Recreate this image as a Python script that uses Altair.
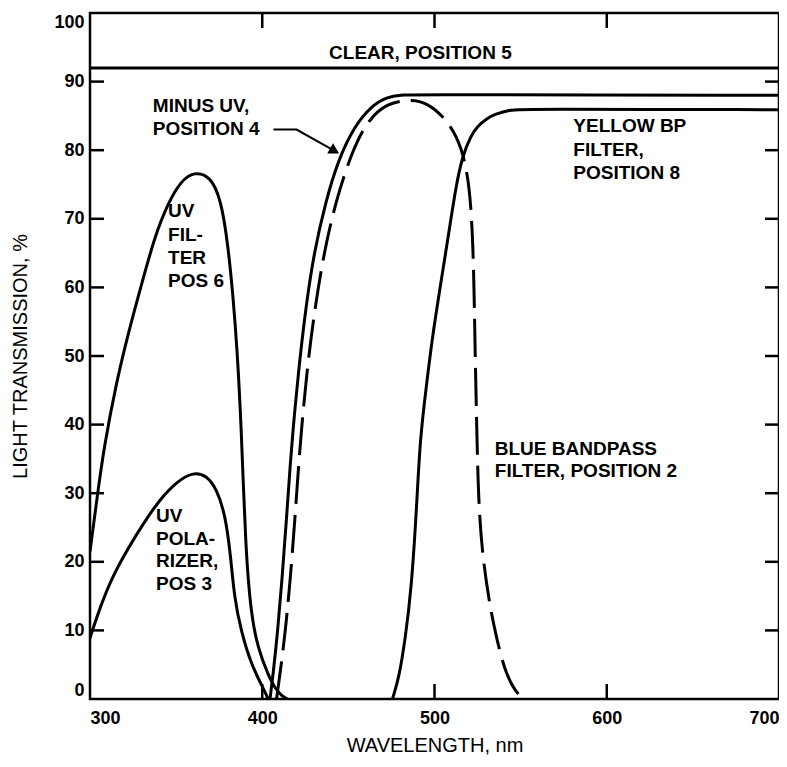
import altair as alt
import pandas as pd

# ---------------- data ----------------
x_tick_labels = [300, 400, 500, 600, 700]
y_tick_labels = [0, 10, 20, 30, 40, 50, 60, 70, 80, 90, 100]
inner_x_ticks = [400, 500, 600]
inner_y_ticks = [10, 20, 30, 40, 50, 60, 70, 80, 90]

clear_nm = [300, 700]
clear_pct = [92, 92]

uv_filter_nm = [300, 304.3, 308, 315.3, 322.8, 330.2, 337.7, 345.3, 352.8, 360.4,
                370.1, 376, 380, 383.2, 385.4, 387.8, 390.3, 393.5, 397.5, 403.4,
                407.3, 411.5, 414.5]
uv_filter_pct = [21.5, 29.7, 36.5, 46.2, 53.9, 60.7, 67.5, 72.3, 75.5, 76.9,
                 76.2, 72.8, 66.5, 58.3, 51, 40, 21.9, 12.3, 7.4, 3.5,
                 1.6, 0.4, 0]

uv_pol_nm = [300, 304.9, 312.5, 321.9, 331.5, 340.9, 350.4, 360, 367.6, 373.4,
             378.6, 381.6, 383.8, 387.8, 393.7, 399.5, 403.5]
uv_pol_pct = [8.9, 12.7, 17.6, 21.9, 25.8, 29.2, 31.7, 33.1, 32.6, 30.7,
              26.8, 21, 14.7, 9.8, 5, 2.1, 0]

minus_uv_nm = [404.5, 406.5, 409, 411.5, 414, 416.3, 418.8, 422, 425.7, 430.1,
               436.6, 444.1, 453.5, 463.1, 472.6, 482.2, 490, 700]
minus_uv_pct = [0, 4, 10, 17.5, 26, 34.5, 42, 50, 57.8, 65.1,
                72.3, 78.6, 83.5, 86.4, 87.8, 88.1, 88.1, 88]

blue_nm = [408.3, 410.5, 413.5, 416.3, 418.9, 421.2, 423.7, 426.9, 431.1, 435.9,
           442.4, 451.7, 461.2, 472.6, 486.1, 495.7, 505.3, 513.2, 518.2, 521.3,
           522.8, 523.4, 524.2, 524.8, 525.7, 527.8, 532, 536, 540.9, 546.8, 551.7]
blue_pct = [0, 4, 10, 17.5, 26, 34.5, 42, 50, 57.8, 65.1,
            72.3, 79.6, 84.4, 86.9, 87.4, 86.9, 84.9, 82, 78.1, 72.3,
            62.6, 53, 43.3, 36.5, 28.2, 21, 13.7, 8.9, 4, 1.1, 0]

yellow_nm = [475.6, 479.4, 483.1, 486.6, 489.7, 491.6, 495.3, 498.9, 503.4, 508.9,
             512.5, 516.2, 520.9, 524.8, 530.4, 534.4, 544, 549.8, 700]
yellow_pct = [0, 3.1, 8.9, 16.1, 28.2, 37.9, 45.7, 53, 60.2, 68.9,
              74.8, 79.1, 82, 83.5, 84.6, 85.2, 85.9, 86, 85.9]

# annotation text (left edge nm, centre %)
label_text = ["CLEAR, POSITION 5",
              "MINUS UV,", "POSITION 4",
              "UV", "FIL-", "TER", "POS 6",
              "UV", "POLA-", "RIZER,", "POS 3",
              "YELLOW BP", "FILTER,", "POSITION 8",
              "BLUE BANDPASS", "FILTER, POSITION 2"]
label_nm = [438.8,
            336.5, 336.5,
            345.3, 345.3, 345.3, 345.3,
            338.3, 338.3, 338.3, 338.3,
            580.6, 580.6, 580.6,
            535, 535]
label_pct = [94.1,
             86.4, 83.1,
             71.1, 67.7, 64.3, 60.9,
             26.7, 23.3, 20.1, 16.7,
             83.5, 80.1, 76.7,
             36.4, 33.2]

arrow_nm = [406.5, 419.9, 442.0]
arrow_pct = [83.0, 83.0, 79.9]

# ---------------- tables ----------------
solid_rows = []
for name, xs, ys in [("UV filter", uv_filter_nm, uv_filter_pct),
                     ("UV polarizer", uv_pol_nm, uv_pol_pct),
                     ("Minus UV", minus_uv_nm, minus_uv_pct),
                     ("Yellow BP", yellow_nm, yellow_pct),
                     ("Clear", clear_nm, clear_pct)]:
    for a, b in zip(xs, ys):
        solid_rows.append({"series": name, "nm": a, "pct": b})
solid_df = pd.DataFrame(solid_rows)
blue_df = pd.DataFrame({"nm": blue_nm, "pct": blue_pct})
label_df = pd.DataFrame({"text": label_text, "nm": label_nm, "pct": label_pct})
arrow_df = pd.DataFrame({"nm": arrow_nm, "pct": arrow_pct})
head_df = arrow_df.tail(1)
xt_df = pd.DataFrame({"nm": inner_x_ticks})
yt_df = pd.DataFrame({"pct": inner_y_ticks})

W, H = 689, 686
FONT = "Liberation Sans"

xscale = alt.Scale(domain=[300, 700], nice=False, zero=False)
yscale = alt.Scale(domain=[0, 100], nice=False, zero=False)
xaxis = alt.Axis(values=x_tick_labels, title="WAVELENGTH, nm", ticks=False, domain=False,
                 grid=False, labelFlush=True, labelPadding=10, labelFont=FONT,
                 labelFontSize=18, labelFontWeight="bold", labelColor="black",
                 titleFont=FONT, titleFontSize=20, titleFontWeight="normal",
                 titleColor="black", titleX=W / 2, titleY=46, titleBaseline="middle",
                 titleAlign="center")
yaxis = alt.Axis(values=y_tick_labels, title="LIGHT TRANSMISSION, %", ticks=False,
                 domain=False, grid=False, labelFlush=True, labelPadding=6,
                 labelFont=FONT, labelFontSize=18, labelFontWeight="bold",
                 labelColor="black", titleFont=FONT, titleFontSize=20,
                 titleFontWeight="normal", titleColor="black", titleX=-70,
                 titleY=H / 2, titleAngle=270, titleAlign="center",
                 titleBaseline="middle")

X = alt.X("nm:Q", scale=xscale, axis=xaxis)
Y = alt.Y("pct:Q", scale=yscale, axis=yaxis)

solid = alt.Chart(solid_df).mark_line(color="black", strokeWidth=3,
                                      interpolate="basis", clip=True).encode(
    x=X, y=Y, detail="series:N")

blue = alt.Chart(blue_df).mark_line(color="black", strokeWidth=3, strokeDash=[38, 11],
                                    interpolate="basis", clip=True).encode(x=X, y=Y)

arrow = alt.Chart(arrow_df).mark_line(color="black", strokeWidth=2).encode(x=X, y=Y)
head = alt.Chart(head_df).mark_point(shape="triangle-right", angle=30, filled=True,
                                     color="black", size=140, opacity=1).encode(x=X, y=Y)

labels = alt.Chart(label_df).mark_text(align="left", baseline="middle", font=FONT,
                                       fontSize=19, fontWeight="bold", color="black").encode(
    x=X, y=Y, text="text:N")

tick_left = alt.Chart(yt_df).mark_rule(color="black", strokeWidth=2.5).encode(
    y=alt.Y("pct:Q", scale=yscale, axis=yaxis), x=alt.value(0), x2=alt.value(14))
tick_right = alt.Chart(yt_df).mark_rule(color="black", strokeWidth=2.5).encode(
    y=alt.Y("pct:Q", scale=yscale, axis=yaxis), x=alt.value(W - 14), x2=alt.value(W))
tick_top = alt.Chart(xt_df).mark_rule(color="black", strokeWidth=2.5).encode(
    x=alt.X("nm:Q", scale=xscale, axis=xaxis), y=alt.value(0), y2=alt.value(15))
tick_bottom = alt.Chart(xt_df).mark_rule(color="black", strokeWidth=2.5).encode(
    x=alt.X("nm:Q", scale=xscale, axis=xaxis), y=alt.value(H - 15), y2=alt.value(H))

chart = alt.layer(
    solid, blue, arrow, head, labels, tick_left, tick_right, tick_top, tick_bottom
).properties(
    width=W, height=H,
    padding={"left": 82, "top": 5, "right": 0, "bottom": 58},
    autosize=alt.AutoSizeParams(type="none"),
    background="white",
).configure_view(stroke="black", strokeWidth=2.5)

chart.save("out.html", embed_options={"renderer": "svg", "actions": False})
